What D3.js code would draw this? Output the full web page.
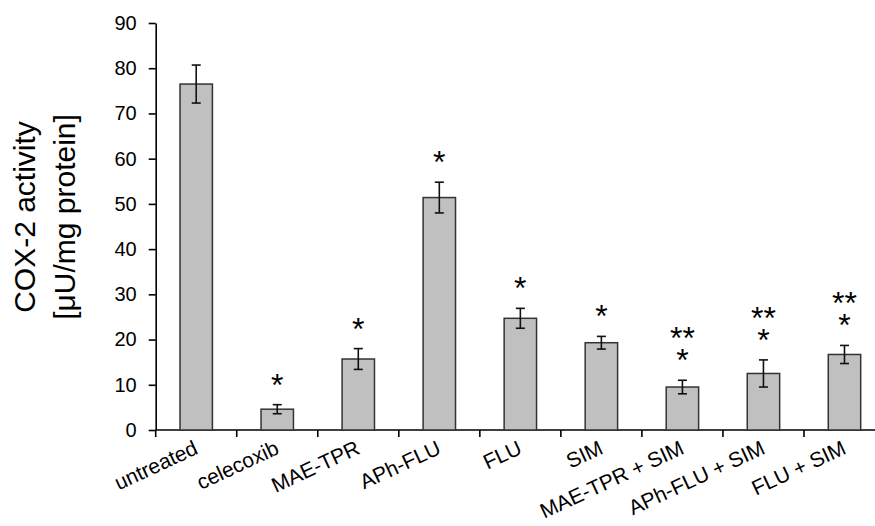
<!DOCTYPE html>
<head>
    <meta charset="utf-8">
    <script src="https://d3js.org/d3.v7.min.js"></script>
    <style>
        body { margin:0; background:#fff; }
        text { font-family: Arial, "Liberation Sans", sans-serif; fill:#000; }
    </style>
</head>
<body>
<script>
    // values
    var categories = ["untreated", "celecoxib", "MAE-TPR", "APh-FLU", "FLU", "SIM",
        "MAE-TPR + SIM", "APh-FLU + SIM", "FLU + SIM"];
    var means  = [76.5, 4.6, 15.7, 51.4, 24.7, 19.3, 9.5, 12.5, 16.7];
    var errors = [4.2, 1.0, 2.3, 3.4, 2.2, 1.4, 1.5, 3.0, 2.0];
    var oneStar = [false, true, true, true, true, true, true, true, true];
    var twoStar = [false, false, false, false, false, false, true, true, true];
    var yTicks = [0, 10, 20, 30, 40, 50, 60, 70, 80, 90];

    var width = 875, height = 526;

    var svg = d3.select("body").append("svg")
        .attr("width", width)
        .attr("height", height);

    var x = d3.scaleBand()
        .domain(categories)
        .range([155.7, 885])
        .paddingInner(0.6)
        .paddingOuter(0.3);

    var y = d3.scaleLinear().domain([0, 90]).range([430, 23]);

    // y axis
    var yAxis = svg.append("g")
        .attr("transform", "translate(155.7,0)")
        .call(d3.axisLeft(y).tickValues(yTicks).tickSize(7).tickSizeOuter(0).tickPadding(12));
    yAxis.selectAll("path, line").attr("stroke", "#000").attr("stroke-width", 1.6);
    yAxis.selectAll("text").style("font-size", "20px").attr("font-family", null);

    // x axis line + ticks on category boundaries
    var step = x.step();
    var bounds = d3.range(categories.length + 1).map(function(i) { return x.range()[0] + i * step; });
    svg.append("line")
        .attr("x1", x.range()[0]).attr("x2", x.range()[1])
        .attr("y1", y(0)).attr("y2", y(0))
        .attr("stroke", "#000").attr("stroke-width", 1.6);
    svg.selectAll("line.xtick").data(bounds).enter().append("line")
        .attr("class", "xtick")
        .attr("x1", function(d) { return d; }).attr("x2", function(d) { return d; })
        .attr("y1", y(0)).attr("y2", y(0) + 7)
        .attr("stroke", "#000").attr("stroke-width", 1.6);

    // bars
    svg.selectAll("rect.bar").data(means).enter().append("rect")
        .attr("class", "bar")
        .attr("x", function(d, i) { return x(categories[i]); })
        .attr("y", function(d) { return y(d); })
        .attr("width", x.bandwidth())
        .attr("height", function(d) { return y(0) - y(d); })
        .attr("fill", "#c0c0c0")
        .attr("stroke", "#333")
        .attr("stroke-width", 1.5);

    // error bars
    var cx = function(i) { return x(categories[i]) + x.bandwidth() / 2; };
    var eb = svg.selectAll("g.err").data(means).enter().append("g").attr("class", "err");
    eb.append("line")
        .attr("x1", function(d, i) { return cx(i); }).attr("x2", function(d, i) { return cx(i); })
        .attr("y1", function(d, i) { return y(d + errors[i]); })
        .attr("y2", function(d, i) { return y(d - errors[i]); });
    eb.append("line")
        .attr("x1", function(d, i) { return cx(i) - 4.5; }).attr("x2", function(d, i) { return cx(i) + 4.5; })
        .attr("y1", function(d, i) { return y(d + errors[i]); })
        .attr("y2", function(d, i) { return y(d + errors[i]); });
    eb.append("line")
        .attr("x1", function(d, i) { return cx(i) - 4.5; }).attr("x2", function(d, i) { return cx(i) + 4.5; })
        .attr("y1", function(d, i) { return y(d - errors[i]); })
        .attr("y2", function(d, i) { return y(d - errors[i]); });
    eb.selectAll("line").attr("stroke", "#111").attr("stroke-width", 1.6);

    // significance stars: one text per bar, "**" stacked above "*"
    var starY = function(i) { return y(means[i] + errors[i]) - 27 + 18; };
    var stars = svg.selectAll("text.star").data(categories).enter()
        .filter(function(d, i) { return oneStar[i]; })
        .append("text")
        .attr("class", "star")
        .attr("text-anchor", "middle")
        .style("font-size", "32px");
    stars.each(function(d) {
        var i = categories.indexOf(d);
        var t = d3.select(this);
        if (twoStar[i]) {
            t.append("tspan").attr("x", cx(i)).attr("y", starY(i) - 22).text("**");
        }
        t.append("tspan").attr("x", cx(i)).attr("y", starY(i)).text("*");
    });

    // category labels
    svg.selectAll("text.xlab").data(categories).enter().append("text")
        .attr("class", "xlab")
        .attr("transform", function(d, i) { return "translate(" + (cx(i) + 3) + ",453) rotate(-25)"; })
        .attr("text-anchor", "end")
        .style("font-size", "21px")
        .text(function(d) { return d; });

    // y title
    var title = svg.append("text")
        .attr("transform", "translate(0,217) rotate(-90)")
        .attr("text-anchor", "middle")
        .style("font-size", "30px");
    title.append("tspan").attr("x", 0).attr("y", 35).text("COX-2 activity");
    title.append("tspan").attr("x", 0).attr("y", 75).text("[\u03bcU/mg protein]");
</script>
</body>
